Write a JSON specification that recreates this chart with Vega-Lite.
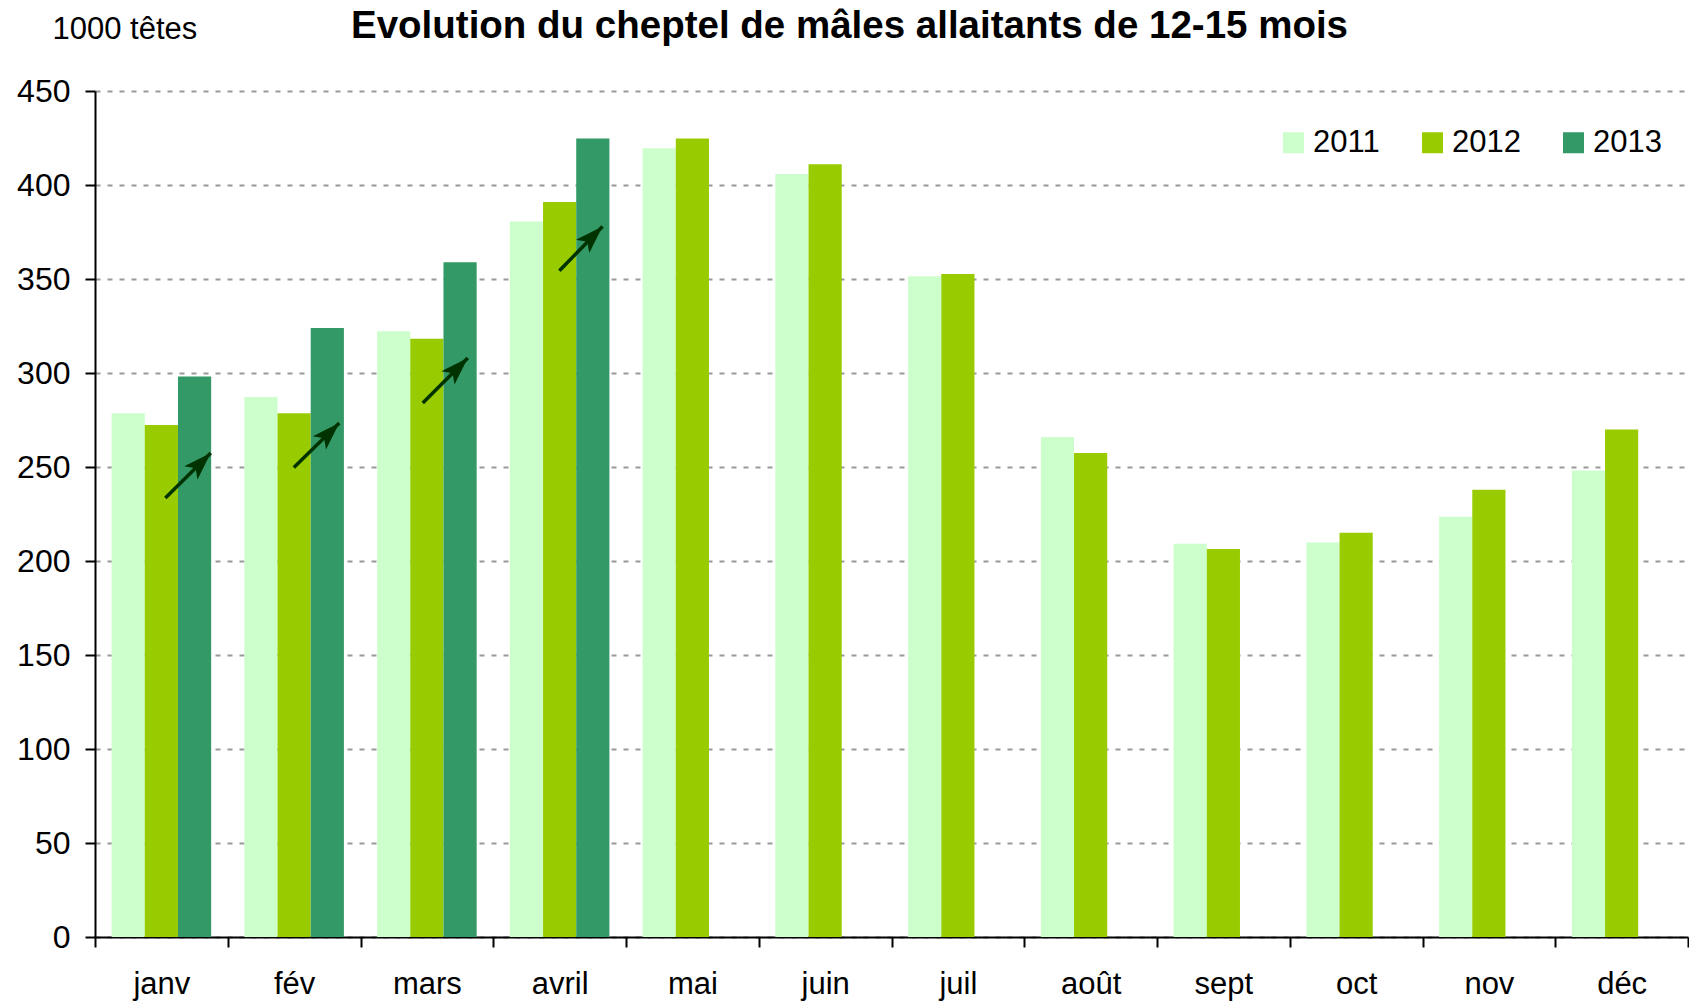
{
  "$schema": "https://vega.github.io/schema/vega-lite/v6.json",
  "width": 1593,
  "height": 846,
  "autosize": {"type": "none"},
  "padding": {"left": 95, "top": 91, "right": 1, "bottom": 64},
  "background": "white",
  "config": {
    "view": {"stroke": null},
    "font": "Liberation Sans",
    "axis": {"labelFont": "Liberation Sans", "titleFont": "Liberation Sans", "labelColor": "black", "titleColor": "black"},
    "legend": {"labelFont": "Liberation Sans"}
  },
  "title": {
    "text": "Evolution du cheptel de mâles allaitants de 12-15 mois",
    "font": "Liberation Sans",
    "fontSize": 38.5,
    "fontWeight": "bold",
    "color": "black",
    "anchor": "middle",
    "baseline": "alphabetic",
    "dx": -42,
    "offset": -63
  },
  "datasets": {
    "cheptel": [
      {"mois": "janv", "annee": "2011", "v": 278.6},
      {"mois": "janv", "annee": "2012", "v": 272.3},
      {"mois": "janv", "annee": "2013", "v": 298.1},
      {"mois": "fév", "annee": "2011", "v": 287.2},
      {"mois": "fév", "annee": "2012", "v": 278.6},
      {"mois": "fév", "annee": "2013", "v": 323.9},
      {"mois": "mars", "annee": "2011", "v": 322.2},
      {"mois": "mars", "annee": "2012", "v": 318.2},
      {"mois": "mars", "annee": "2013", "v": 358.9},
      {"mois": "avril", "annee": "2011", "v": 380.6},
      {"mois": "avril", "annee": "2012", "v": 391.0},
      {"mois": "avril", "annee": "2013", "v": 424.8},
      {"mois": "mai", "annee": "2011", "v": 419.6},
      {"mois": "mai", "annee": "2012", "v": 424.8},
      {"mois": "juin", "annee": "2011", "v": 405.9},
      {"mois": "juin", "annee": "2012", "v": 411.0},
      {"mois": "juil", "annee": "2011", "v": 351.4},
      {"mois": "juil", "annee": "2012", "v": 352.6},
      {"mois": "août", "annee": "2011", "v": 266.0},
      {"mois": "août", "annee": "2012", "v": 257.4},
      {"mois": "sept", "annee": "2011", "v": 209.2},
      {"mois": "sept", "annee": "2012", "v": 206.4},
      {"mois": "oct", "annee": "2011", "v": 209.8},
      {"mois": "oct", "annee": "2012", "v": 215.0},
      {"mois": "nov", "annee": "2011", "v": 223.6},
      {"mois": "nov", "annee": "2012", "v": 237.9},
      {"mois": "déc", "annee": "2011", "v": 248.2},
      {"mois": "déc", "annee": "2012", "v": 270.0}
    ],
    "fleches": [
      {"mois": "janv", "xa": 0.53, "ya": 233.5, "xb": 0.872, "yb": 257.4},
      {"mois": "fév", "xa": 1.498, "ya": 249.7, "xb": 1.84, "yb": 273.4},
      {"mois": "mars", "xa": 2.469, "ya": 284.0, "xb": 2.808, "yb": 308.0},
      {"mois": "avril", "xa": 3.498, "ya": 354.4, "xb": 3.823, "yb": 377.9}
    ]
  },
  "layer": [
    {
      "data": {"name": "cheptel"},
      "mark": {"type": "bar"},
      "encoding": {
        "x": {
          "field": "mois",
          "type": "nominal",
          "sort": ["janv", "fév", "mars", "avril", "mai", "juin", "juil", "août", "sept", "oct", "nov", "déc"],
          "scale": {"paddingInner": 0, "paddingOuter": 0},
          "axis": {
            "title": null,
            "labelAngle": 0,
            "labelFontSize": 31,
            "labelPadding": 22,
            "tickBand": "extent",
            "tickSize": 10,
            "tickColor": "black",
            "tickWidth": 2,
            "domainColor": "black",
            "domainWidth": 2,
            "grid": false
          }
        },
        "xOffset": {
          "field": "annee",
          "type": "nominal",
          "scale": {"domain": ["2011", "2012", "2013"], "paddingInner": 0, "paddingOuter": 0.5}
        },
        "y": {
          "field": "v",
          "type": "quantitative",
          "scale": {"domain": [0, 450], "nice": false},
          "axis": {
            "title": "1000 têtes",
            "titleAngle": 0,
            "titleAlign": "left",
            "titleBaseline": "middle",
            "titleX": -43,
            "titleY": -62,
            "titleFontSize": 31,
            "titleFontWeight": "normal",
            "values": [0, 50, 100, 150, 200, 250, 300, 350, 400, 450],
            "labelFontSize": 32,
            "labelPadding": 15,
            "tickSize": 10,
            "tickColor": "black",
            "tickWidth": 2,
            "domainColor": "black",
            "domainWidth": 2,
            "grid": true,
            "gridColor": "#999999",
            "gridDash": [5, 7],
            "gridWidth": 2
          }
        },
        "color": {
          "field": "annee",
          "type": "nominal",
          "scale": {"domain": ["2011", "2012", "2013"], "range": ["#CCFFCC", "#99CC00", "#339966"]},
          "legend": {
            "title": null,
            "orient": "none",
            "legendX": 1183,
            "legendY": 36,
            "direction": "horizontal",
            "symbolType": "square",
            "symbolSize": 441,
            "symbolStrokeWidth": 0,
            "symbolOpacity": 1,
            "labelFontSize": 31,
            "labelColor": "black",
            "labelOffset": 4,
            "columnPadding": 37
          }
        }
      }
    },
    {
      "data": {"name": "fleches"},
      "mark": {"type": "rule", "color": "#003300", "strokeWidth": 3.5},
      "encoding": {
        "x": {"field": "xa", "type": "quantitative", "scale": {"domain": [0, 12], "nice": false, "zero": false}, "axis": null},
        "x2": {"field": "xb"},
        "y": {"field": "ya", "type": "quantitative"},
        "y2": {"field": "yb"}
      }
    },
    {
      "data": {"name": "fleches"},
      "mark": {
        "type": "point",
        "filled": true,
        "color": "#003300",
        "opacity": 1,
        "size": 1400,
        "angle": 45,
        "shape": "M0,0 L-0.5,1.5 L0,1.15 L0.5,1.5 Z"
      },
      "encoding": {
        "x": {"field": "xb", "type": "quantitative", "scale": {"domain": [0, 12], "nice": false, "zero": false}, "axis": null},
        "y": {"field": "yb", "type": "quantitative"}
      }
    }
  ],
  "resolve": {"scale": {"x": "independent"}}
}
